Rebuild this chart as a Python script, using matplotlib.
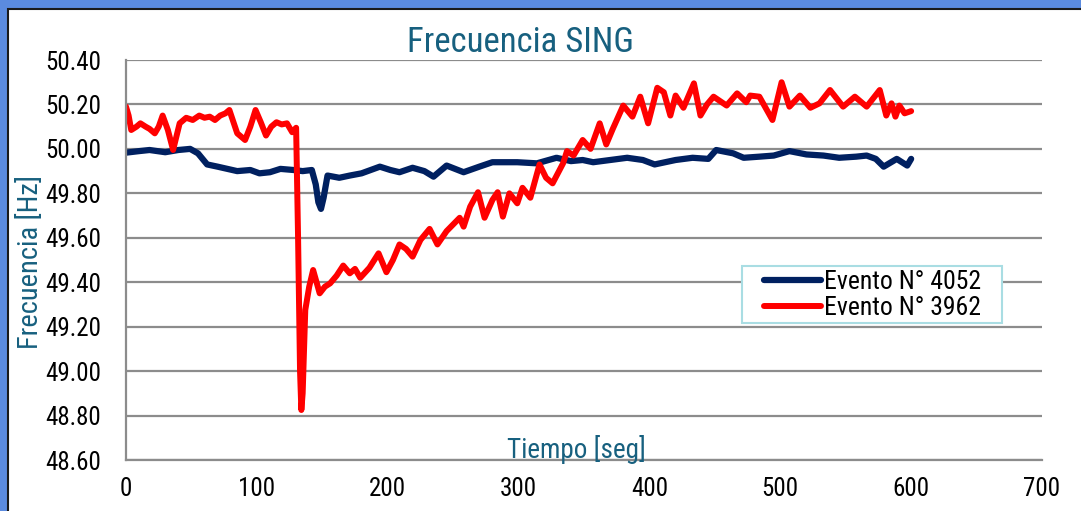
import numpy as np
import matplotlib
matplotlib.use("Agg")
import matplotlib.pyplot as plt
from matplotlib.patches import Rectangle

# fuente angosta tipo Arial Narrow
plt.rcParams['font.family'] = ['Roboto Condensed', 'Liberation Sans', 'DejaVu Sans']

# datos
t_4052 = [0, 10, 18, 30, 40, 49, 55, 62, 70, 85, 95, 102, 110, 118, 128, 135, 142, 145, 147,
          149, 151, 154, 163, 171, 180, 194, 202, 209, 219, 228, 235, 245, 258, 270, 280, 299,
          314, 329, 340, 349, 357, 370, 383, 395, 404, 420, 433, 445, 451, 464, 472, 484, 495,
          507, 520, 533, 545, 558, 566, 573, 579, 589, 597, 600]
f_4052 = [49.983, 49.99, 49.995, 49.985, 49.995, 50.0, 49.98, 49.93, 49.92, 49.90, 49.905,
          49.89, 49.895, 49.91, 49.905, 49.90, 49.905, 49.84, 49.76, 49.73, 49.78, 49.88,
          49.87, 49.88, 49.89, 49.92, 49.905, 49.895, 49.915, 49.90, 49.875, 49.925, 49.895,
          49.92, 49.94, 49.94, 49.935, 49.96, 49.945, 49.95, 49.94, 49.95, 49.96, 49.95, 49.93,
          49.95, 49.96, 49.955, 49.995, 49.98, 49.96, 49.965, 49.97, 49.99, 49.975, 49.97,
          49.96, 49.965, 49.97, 49.955, 49.92, 49.955, 49.925, 49.955]

t_3962 = [0, 2, 4, 8, 11, 15, 18, 22, 25, 28, 32, 36, 41, 46, 51, 56, 60, 64, 68, 72, 76, 79,
          85, 91, 95, 99, 103, 107, 111, 115, 119, 123, 127, 130, 131.5, 133, 134, 135, 137,
          140, 143, 148, 152, 156, 161, 166, 171, 175, 179, 186, 193, 199, 204, 209, 214, 219,
          225, 232, 238, 245, 250, 255, 258, 263, 269, 274, 280, 284, 288, 293, 299, 303, 309,
          316, 321, 326, 334, 337, 342, 349, 355, 362, 367, 372, 380, 387, 393, 399, 406, 411,
          416, 420, 426, 434, 439, 444, 449, 459, 467, 474, 477, 484, 494, 501, 507, 515, 523,
          530, 538, 548, 557, 566, 576, 581, 585, 588, 591, 595, 600]
f_3962 = [50.19, 50.15, 50.085, 50.10, 50.115, 50.10, 50.09, 50.07, 50.10, 50.15, 50.085,
          49.995, 50.115, 50.14, 50.13, 50.15, 50.14, 50.145, 50.13, 50.15, 50.16, 50.175,
          50.07, 50.04, 50.10, 50.175, 50.12, 50.06, 50.10, 50.12, 50.11, 50.115, 50.075,
          50.095, 49.60, 49.00, 48.825, 48.90, 49.275, 49.38, 49.455, 49.35, 49.38, 49.395,
          49.43, 49.475, 49.44, 49.46, 49.42, 49.465, 49.53, 49.445, 49.50, 49.57, 49.55,
          49.515, 49.59, 49.64, 49.57, 49.63, 49.66, 49.69, 49.65, 49.74, 49.805, 49.69,
          49.77, 49.805, 49.695, 49.80, 49.755, 49.825, 49.78, 49.93, 49.87, 49.845, 49.935,
          49.99, 49.97, 50.04, 50.00, 50.115, 50.02, 50.09, 50.195, 50.145, 50.235, 50.115,
          50.275, 50.255, 50.15, 50.24, 50.185, 50.295, 50.15, 50.20, 50.235, 50.195, 50.25,
          50.21, 50.24, 50.235, 50.13, 50.30, 50.19, 50.24, 50.185, 50.205, 50.265, 50.19,
          50.235, 50.19, 50.265, 50.15, 50.205, 50.145, 50.195, 50.16, 50.17]

x_ticks = [0, 100, 200, 300, 400, 500, 600, 700]
y_ticks = [48.6, 48.8, 49.0, 49.2, 49.4, 49.6, 49.8, 50.0, 50.2, 50.4]

teal = '#17607F'
gris = '#8C8C8C'

fig = plt.figure(figsize=(10.81, 5.11), dpi=100, facecolor='#5B8BDF')
# panel blanco con borde oscuro
fig.add_artist(Rectangle((8 / 1081, -0.05), 1.1, (511 - 9) / 511 + 0.05,
                         transform=fig.transFigure, facecolor='white',
                         edgecolor='#1a1a1a', lw=1.5, zorder=0))

ax = fig.add_axes([126 / 1081, 1 - 460 / 511, 916 / 1081, 400 / 511])
ax.set_facecolor('none')

ax.plot(t_4052, f_4052, color='#002060', lw=4.5, label='Evento N° 4052',
        solid_capstyle='round', solid_joinstyle='round')
ax.plot(t_3962, f_3962, color='#FF0000', lw=4.3, label='Evento N° 3962',
        solid_capstyle='round', solid_joinstyle='round')

ax.set_xlim(0, 700)
ax.set_ylim(48.6, 50.4)
ax.set_xticks(x_ticks)
ax.set_yticks(y_ticks)
ax.set_yticklabels(['%.2f' % v for v in y_ticks])
ax.tick_params(length=0, labelsize=18, colors='black', pad=18)
ax.tick_params(axis='x', pad=12)
ax.grid(axis='y', color=gris, lw=1.6)
ax.set_axisbelow(True)
for s in ['top', 'right']:
    ax.spines[s].set_visible(False)
for s in ['left', 'bottom']:
    ax.spines[s].set_color(gris)
    ax.spines[s].set_linewidth(1.6)

# textos
fig.text(520 / 1081, 1 - 42 / 511, 'Frecuencia SING', color=teal, fontsize=25,
         ha='center', va='center')
fig.text(31 / 1081, 1 - 262 / 511, 'Frecuencia [Hz]', color=teal, fontsize=20.5,
         rotation=90, ha='center', va='center')
ax.text(0.492, 0.027, 'Tiempo [seg]', color=teal, fontsize=19.5, transform=ax.transAxes,
        ha='center', va='center')

# marco de la leyenda aparte, las entradas van sin marco
ax.add_patch(Rectangle(((742 - 126) / 916, (460 - 323) / 400), 260 / 916, 57 / 400,
                       transform=ax.transAxes, facecolor='white', edgecolor='#A9DDE3',
                       lw=1.5, zorder=3))
leg = ax.legend(loc='center left', bbox_to_anchor=((764 - 126) / 916, (460 - 295) / 400),
                fontsize=18.5, frameon=False, borderpad=0, borderaxespad=0,
                handlelength=2.2, handletextpad=0.15, labelspacing=0.05)
leg.set_zorder(4)

fig.savefig('out.png', dpi=100, facecolor=fig.get_facecolor())
